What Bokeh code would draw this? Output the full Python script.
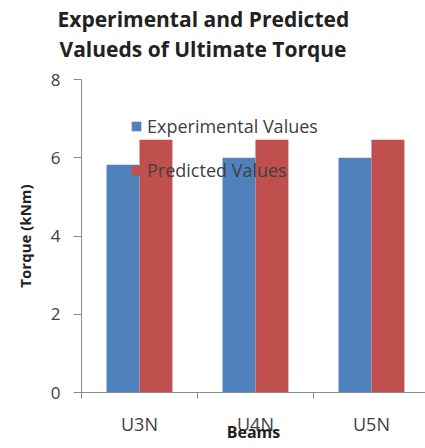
import math
from bokeh.plotting import figure
from bokeh.models import Range1d, FixedTicker, Legend, LegendItem, ColumnDataSource, Title
from bokeh.transform import dodge
from bokeh.embed import file_html
from bokeh.resources import INLINE

beams = ["U3N", "U4N", "U5N"]
experimental = [5.82, 6.0, 6.0]
predicted = [6.46, 6.46, 6.46]
y_ticks = [0, 2, 4, 6, 8]

FONT = "Open Sans"
TXT = "#404040"
DARK = "#222222"
BLUE = "#4F81BD"
RED = "#C0504D"
AX = "#8a8a8a"

pos = [i + 0.5 for i in range(len(beams))]
src = ColumnDataSource(dict(x=pos, exp=experimental, pred=predicted))

p = figure(width=425, height=448, output_backend="svg", toolbar_location=None,
           x_range=Range1d(0, 2.966), y_range=Range1d(0, 8),
           x_axis_label="Beams", y_axis_label="Torque (kNm)",
           min_border_left=81, min_border_right=0, min_border_top=79, min_border_bottom=56)
p.outline_line_color = None
p.grid.visible = False

r1 = p.vbar(x=dodge("x", -0.142, range=p.x_range), top="exp", width=0.284, source=src,
            fill_color=BLUE, line_color=None)
r2 = p.vbar(x=dodge("x", 0.142, range=p.x_range), top="pred", width=0.284, source=src,
            fill_color=RED, line_color=None)

# x axis
xa = p.xaxis[0]
xa.ticker = FixedTicker(ticks=pos, minor_ticks=[0, 1, 2, 3])
xa.major_label_overrides = {pos[i]: beams[i] for i in range(len(beams))}
xa.major_tick_line_color = None
xa.major_tick_out = 0
xa.major_tick_in = 0
xa.minor_tick_line_color = AX
xa.minor_tick_out = 6
xa.minor_tick_in = 0
xa.axis_line_color = AX
xa.major_label_standoff = 13
xa.major_label_text_font = FONT
xa.major_label_text_font_size = "18px"
xa.major_label_text_line_height = 1.0
xa.major_label_text_color = TXT
xa.axis_label_standoff = -18
xa.axis_label_text_font = FONT
xa.axis_label_text_font_style = "bold"
xa.axis_label_text_font_size = "16px"
xa.axis_label_text_line_height = 1.0
xa.axis_label_text_color = DARK

ya = p.yaxis[0]
ya.ticker = FixedTicker(ticks=y_ticks)
ya.minor_tick_line_color = None
ya.major_tick_out = 8
ya.major_tick_in = 0
ya.major_tick_line_color = AX
ya.axis_line_color = AX
ya.major_label_standoff = 13
ya.major_label_text_font = FONT
ya.major_label_text_font_size = "17px"
ya.major_label_text_color = TXT
ya.axis_label_standoff = 13
ya.axis_label_text_font = FONT
ya.axis_label_text_font_style = "bold"
ya.axis_label_text_font_size = "15px"
ya.axis_label_text_color = DARK

# spacer, then two-line title (first added sits nearest the plot)
p.add_layout(Title(text=" ", standoff=0, text_font=FONT, text_font_size="11px",
                   text_line_height=1.0), "above")
for txt, off in [("Valueds of Ultimate Torque", -22), ("Experimental and Predicted", -24)]:
    p.add_layout(Title(text=txt, align="left", offset=off, standoff=0,
                       text_font=FONT, text_font_style="bold", text_font_size="21px",
                       text_line_height=1.0, text_color=DARK), "above")

legend = Legend(items=[LegendItem(label="Experimental Values", renderers=[r1]),
                       LegendItem(label="Predicted Values", renderers=[r2])],
                location=(49, 210), padding=0, margin=0, spacing=20,
                glyph_width=12, glyph_height=12, label_height=22, label_standoff=5,
                label_text_font=FONT, label_text_font_size="18px", label_text_color=TXT,
                background_fill_alpha=0, border_line_color=None)
p.add_layout(legend, "center")

open("out.html", "w").write(file_html(p, INLINE))
